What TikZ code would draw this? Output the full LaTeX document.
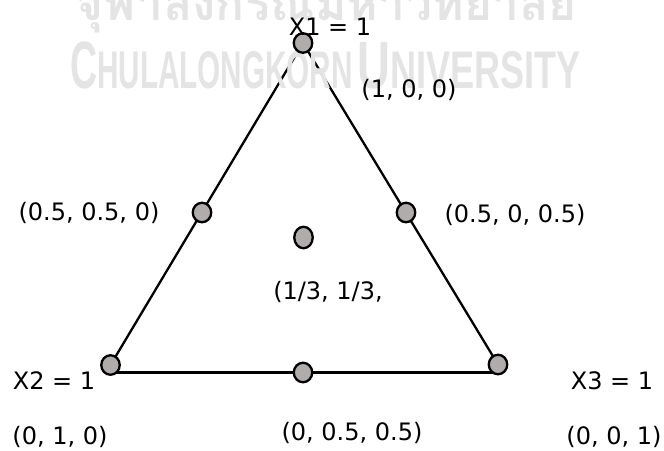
\documentclass[tikz,border=0pt]{standalone}
\usepackage{fontspec}
\setmainfont{DejaVu Sans}
\newfontfamily\thaiwm[Script=Thai]{Loma}
\newfontfamily\wmfont{Liberation Sans}
\usetikzlibrary{shapes.geometric,backgrounds}
\definecolor{dotfill}{RGB}{176,172,172}
\definecolor{wmgray}{RGB}{228,228,228}
\tikzset{
  vtx/.style={ellipse, draw=black, line width=2.3pt, fill=dotfill, minimum width=18.5pt, minimum height=19.5pt, inner sep=0pt},
  tri/.style={line width=2.3pt, draw=black},
  lbl/.style={font=\fontsize{24}{28}\selectfont, inner sep=0pt},
  wm/.style={text=wmgray, inner sep=0pt},
}
\begin{document}
\begin{tikzpicture}[x=1pt,y=-1pt]
\useasboundingbox (0,0) rectangle (664,450);
% watermark
\node[wm, anchor=base] (wmth) at (326,20) {\thaiwm\bfseries\fontsize{48}{48}\selectfont จุฬาลงกรณ์มหาวิทยาลัย};
\node[wm, anchor=base west] (wma) at (70,88) {\wmfont\bfseries\scalebox{0.56}[1]{\fontsize{67}{67}\selectfont C\fontsize{53}{53}\selectfont HULALONGKORN}};
\node[wm, anchor=base west] (wmb) at (357,88) {\wmfont\bfseries\scalebox{0.68}[1]{\fontsize{67}{67}\selectfont U\fontsize{53}{53}\selectfont NIVERSITY}};
% vertices
\node[vtx] (top) at (303,43) {};
\node[vtx] (ml) at (202,212.5) {};
\node[vtx] (mr) at (406,212.5) {};
\node[vtx, minimum height=21.5pt] (ctr) at (303.5,237.5) {};
\node[vtx] (bl) at (110.5,365) {};
\node[vtx] (bm) at (303,372.5) {};
\node[vtx] (br) at (498,364.5) {};
\begin{scope}[on background layer]
  \draw[tri] (top.center) -- (bl.center);
  \draw[tri] (top.center) -- (br.center);
  \draw[tri] (bl.center |- bm.center) -- (br.center |- bm.center);
\end{scope}
% labels
\node[lbl] (lx1) at (330,27) {X1 = 1};
\node[lbl] (l100) at (409,90) {(1, 0, 0)};
\node[lbl] (l550) at (89,213) {(0.5, 0.5, 0)};
\node[lbl] (l505) at (515,215) {(0.5, 0, 0.5)};
\node[lbl] (lc) at (328,292) {(1/3, 1/3,};
\node[lbl] (lx2) at (54,381) {X2 = 1};
\node[lbl] (lx3) at (612,381) {X3 = 1};
\node[lbl] (l010) at (60,437) {(0, 1, 0)};
\node[lbl] (l055) at (352,433) {(0, 0.5, 0.5)};
\node[lbl] (l001) at (614,437) {(0, 0, 1)};
\end{tikzpicture}
\end{document}
